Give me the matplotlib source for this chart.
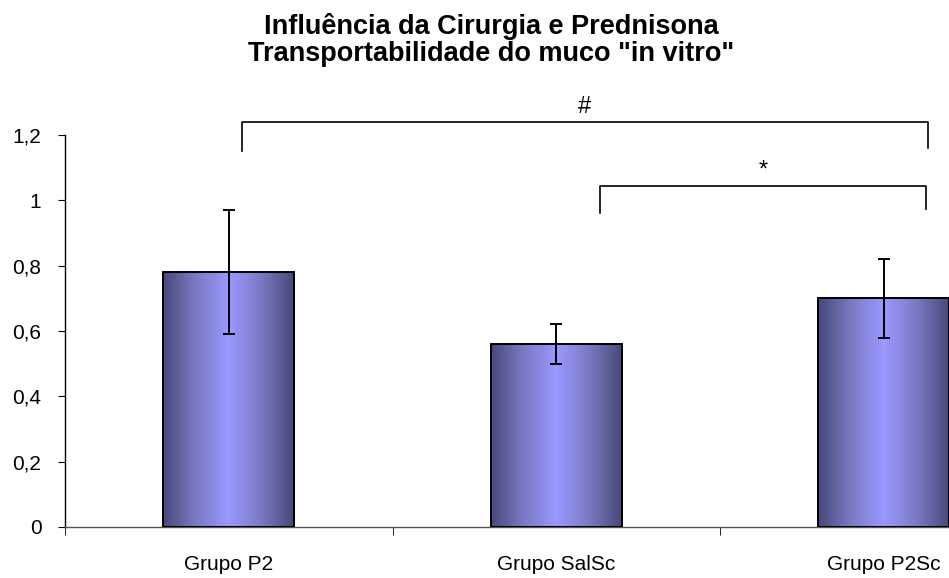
import numpy as np
import matplotlib
matplotlib.use("Agg")
from matplotlib import pyplot as plt
from matplotlib.colors import LinearSegmentedColormap

groups = ["Grupo P2", "Grupo SalSc", "Grupo P2Sc"]
means = [0.78, 0.56, 0.70]
errors = [0.19, 0.06, 0.12]

# significance brackets: (left x, right x, top, left drop, right drop, label)
brackets = [
    (0.04, 2.135, 1.24, 1.15, 1.16, "#"),
    (1.135, 2.13, 1.045, 0.96, 0.975, "*"),
]

plt.rcParams["font.family"] = ["Liberation Sans", "DejaVu Sans"]

W, H = 949, 578
fig = plt.figure(figsize=(W / 100, H / 100), dpi=100)
ax = fig.add_axes([65 / W, (H - 527) / H, 3 * 327.5 / W, (527 - 135) / H])

x = np.arange(len(groups))
bars = ax.bar(x, means, width=0.4, facecolor="none", edgecolor="black",
              linewidth=1.4, zorder=3)

# horizontal gradient inside each bar: dark edges, light middle
cmap = LinearSegmentedColormap.from_list(
    "grad", ["#48487a", "#7a7ac4", "#9999ff", "#7a7ac4", "#48487a"])
grad = np.linspace(0, 1, 256).reshape(1, -1)
for b in bars:
    ax.imshow(grad, cmap=cmap, aspect="auto", zorder=2,
              extent=[b.get_x(), b.get_x() + b.get_width(), 0, b.get_height()])

ax.errorbar(x, means, yerr=errors, fmt="none", ecolor="black",
            elinewidth=1.4, capsize=4, capthick=1.4, zorder=4)

for x0, x1, top, d0, d1, lab in brackets:
    ax.plot([x0, x0, x1, x1], [d0, top, top, d1], color="black", lw=1.2,
            clip_on=False, zorder=5)
    ax.text((x0 + x1) / 2, top + 0.012, lab, ha="center", va="bottom",
            fontsize=17, clip_on=False)

ax.set_xlim(-0.5, 2.5)
ax.set_ylim(0, 1.2)
ax.set_yticks(np.arange(0, 1.21, 0.2))
ax.set_yticklabels(["0", "0,2", "0,4", "0,6", "0,8", "1", "1,2"])
ax.set_xticks(x)
ax.set_xticklabels(groups)
ax.set_xticks([-0.5, 0.5, 1.5], minor=True)
ax.tick_params(axis="x", which="major", length=0, pad=20, labelsize=15)
ax.tick_params(axis="x", which="minor", length=6, direction="out")
ax.tick_params(axis="y", length=5, direction="out", pad=12, labelsize=15)

for s in ["top", "right"]:
    ax.spines[s].set_visible(False)
ax.spines["left"].set_linewidth(1.0)
ax.spines["bottom"].set_linewidth(1.0)
ax.spines["bottom"].set_color("#555555")

fig.text(0.518, 0.978, "Influência da Cirurgia e Prednisona\n"
         "Transportabilidade do muco \"in vitro\"",
         ha="center", va="top", fontsize=19.5, fontweight="bold",
         linespacing=1.08)

fig.savefig("out.png", dpi=100)
